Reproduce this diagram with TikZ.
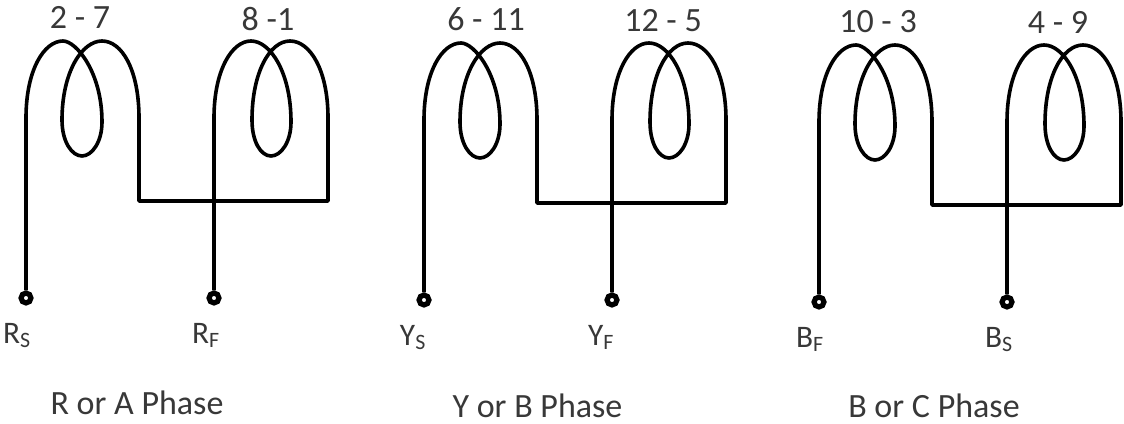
\documentclass[tikz,border=0pt]{standalone}
\usepackage{fontspec}
\setmainfont{Carlito}
\tikzset{
  wire/.style={line width=2.7pt,black,line join=round},
  lab/.style={font=\fontsize{25.5}{28}\selectfont,text=black!78,inner sep=0pt},
  term/.style={font=\fontsize{23.5}{26}\selectfont,text=black!78,inner sep=0pt,anchor=base},
  dot/.style={circle,draw=black,line width=3.9pt,fill=white,inner sep=0pt,minimum size=7.4pt}
}
\newcommand{\phasecoil}[3]{%
\begin{scope}[shift={(#2,#3)}]
  \coordinate (#1a) at (0,118);
  \coordinate (#1b) at (113,118);
  \coordinate (#1c) at (113,201);
  \coordinate (#1d) at (302,201);
  \coordinate (#1e) at (302,118);
  \coordinate (#1f) at (188,118);
  \node[dot] (#1s) at (0,298) {};
  \node[dot] (#1t) at (188,298) {};
  \draw[wire] (#1s) -- (#1a)
    .. controls (0,70) and (18,41) .. (37,41)
    .. controls (50,41) and (76,72) .. (76,122)
    .. controls (76,142) and (66,156) .. (56,156)
    .. controls (46,156) and (36,142) .. (36,120)
    .. controls (36,72) and (56,41) .. (76,41)
    .. controls (96,41) and (113,70) .. (#1b)
    -- (#1c) -- (#1d) -- (#1e)
    .. controls (302,70) and (284,41) .. (264,41)
    .. controls (244,41) and (226,72) .. (226,120)
    .. controls (226,142) and (235,156) .. (245,156)
    .. controls (255,156) and (265,142) .. (265,122)
    .. controls (265,72) and (244,41) .. (225,41)
    .. controls (206,41) and (188,70) .. (#1f)
    -- (#1t);
\end{scope}
}
\begin{document}
\begin{tikzpicture}[x=0.75pt,y=-0.75pt]
\useasboundingbox (0,0) rectangle (1124,424);
\phasecoil{p}{26}{0}
\phasecoil{q}{424}{2}
\phasecoil{r}{819}{4}
\node[lab] (n1) at (80,17.5) {2 - 7};
\node[lab] (n2) at (268,19) {8 -1};
\node[lab] (n3) at (486,19) {6 - 11};
\node[lab] (n4) at (663,21) {12 - 5};
\node[lab] (n5) at (878,22) {10 - 3};
\node[lab] (n6) at (1058,22) {4 - 9};
\node[term] (t1) at (17,343) {R\textsubscript{S}};
\node[term] (t2) at (206,343) {R\textsubscript{F}};
\node[term] (t3) at (413,345) {Y\textsubscript{S}};
\node[term] (t4) at (601,345) {Y\textsubscript{F}};
\node[term] (t5) at (810,347) {B\textsubscript{F}};
\node[term] (t6) at (999,347) {B\textsubscript{S}};
\node[lab] (c1) at (137,402.5) {R or A Phase};
\node[lab] (c2) at (537.5,406) {Y or B Phase};
\node[lab] (c3) at (934,406) {B or C Phase};
\end{tikzpicture}
\end{document}
